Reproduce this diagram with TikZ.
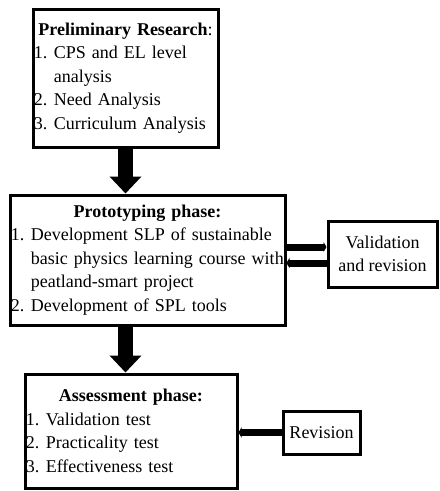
\documentclass[tikz,border=0pt]{standalone}
\usepackage{fontspec}
\setmainfont{Liberation Serif}
\usetikzlibrary{arrows.meta}

\newcommand{\numitem}[1]{\makebox[1.1em][l]{#1}}
\newcommand{\contline}{\hspace*{1.1em}}
\newcommand{\boxtitle}[1]{\makebox[\linewidth]{#1}}

\begin{document}
\begin{tikzpicture}[x=1pt, y=-1pt,
    phase/.style={draw, line width=3pt, rectangle, anchor=north west, inner xsep=1pt, inner ysep=0pt, align=left, font=\fontsize{18}{23.5}\selectfont},
    smallbox/.style={draw, line width=3pt, rectangle, anchor=north west, inner sep=0pt, align=center, font=\fontsize{18}{23.5}\selectfont},
    bigarrow/.style={line width=15pt, -{Triangle[width=31pt,length=17pt]}},
    sidearrow/.style={line width=7pt, -{Triangle[width=10pt,length=3pt]}}]
        \useasboundingbox (0,0) rectangle (440,491);

        % Nodes
        \node[phase, text width=183pt, minimum height=138pt] (prelim) at (31.5,7.5) {%
            \boxtitle{\textbf{Preliminary Research}:}\\
            \numitem{1.}CPS and EL level\\
            \contline analysis\\
            \numitem{2.}Need Analysis\\
            \numitem{3.}Curriculum Analysis};
        \node[phase, text width=273pt, minimum height=130pt] (proto) at (8.5,193.5) {%
            \boxtitle{\textbf{Prototyping phase:}}\\
            \numitem{1.}Development SLP of sustainable\\
            \contline basic physics learning course with\\
            \contline peatland-smart project\\
            \numitem{2.}Development of SPL tools};
        \node[phase, text width=210pt, minimum height=114pt] (assess) at (23.5,372.5) {%
            \boxtitle{\textbf{Assessment phase:}}\\
            \numitem{1.}Validation test\\
            \numitem{2.}Practicality test\\
            \numitem{3.}Effectiveness test};
        \node[smallbox, minimum width=109pt, minimum height=66pt] (valid) at (326.5,219.5) {Validation\\and revision};
        \node[smallbox, minimum width=77pt, minimum height=43pt] (rev) at (281.5,409.5) {Revision};

        % Edges
        \draw[bigarrow] (prelim.south) -- (prelim.south |- proto.north);
        \draw[bigarrow] (prelim.south |- proto.south) -- (prelim.south |- assess.north);
        \draw[sidearrow] ([yshift=7pt]valid.west -| proto.east) -- ([yshift=7pt]valid.west);
        \draw[sidearrow] ([yshift=-9pt]valid.west) -- ([yshift=-9pt]valid.west -| proto.east);
        \draw[sidearrow] (rev.west) -- (rev.west -| assess.east);
    \end{tikzpicture}
\end{document}
